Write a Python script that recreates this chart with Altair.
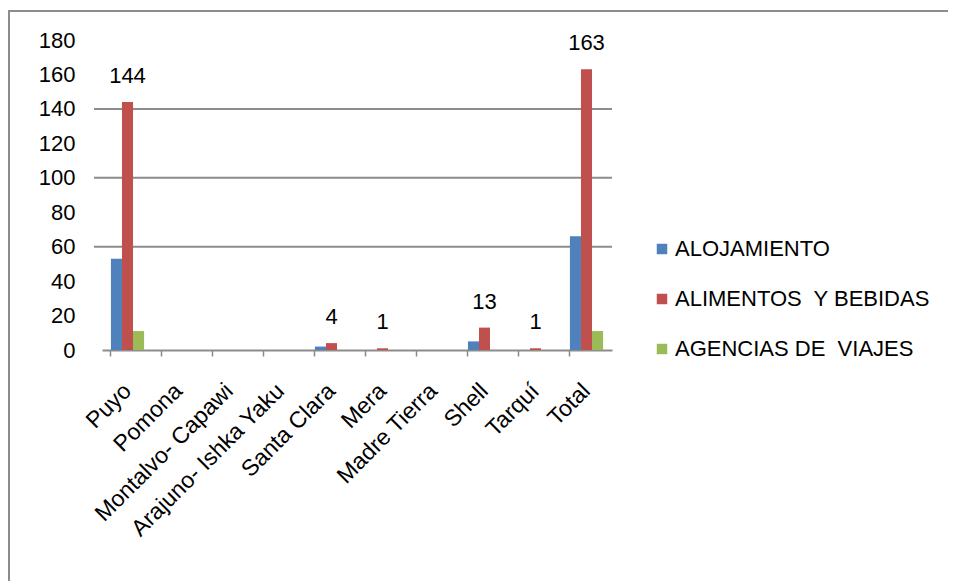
import altair as alt
import pandas as pd

categories = ["Puyo", "Pomona", "Montalvo- Capawi", "Arajuno- Ishka Yaku", "Santa Clara",
              "Mera", "Madre Tierra", "Shell", "Tarquí", "Total"]
series_names = ["ALOJAMIENTO", "ALIMENTOS\u00a0 Y BEBIDAS", "AGENCIAS DE\u00a0 VIAJES"]
alojamiento = [53, 0, 0, 0, 2, 0, 0, 5, 0, 66]
alimentos = [144, 0, 0, 0, 4, 1, 0, 13, 1, 163]
agencias = [11, 0, 0, 0, 0, 0, 0, 0, 0, 11]
colors = ["#4F81BD", "#C0504D", "#9BBB59"]
y_ticks = [0, 20, 40, 60, 80, 100, 120, 140, 160, 180]
grid_values = [60, 100, 140]

rows = []
for s, vals in zip(series_names, [alojamiento, alimentos, agencias]):
    for c, v in zip(categories, vals):
        rows.append({"cat": c, "serie": s, "valor": v})
df = pd.DataFrame(rows)
grid_df = pd.DataFrame({"g": grid_values})
frame_df = pd.DataFrame({"k": [0]})

FONT = "Liberation Sans"
YSCALE = alt.Scale(domain=[0, 180], nice=False)
Y_AXIS = alt.Axis(values=y_ticks, labelFontSize=22, labelFont=FONT,
                  labelColor="#000000", labelPadding=27, domain=False,
                  ticks=False, grid=False, labelOverlap=False)

x_enc = alt.X("cat:N", sort=categories, title=None,
              scale=alt.Scale(paddingInner=0.35, paddingOuter=0.175),
              axis=alt.Axis(labelAngle=-45, labelAlign="right", labelBaseline="middle",
                            labelFontSize=23, labelFont=FONT, labelColor="#000000",
                            labelPadding=31, bandPosition=0, ticks=True, tickSize=6,
                            tickColor="#888888", tickWidth=1.5, labelOverlap=False,
                            labelLimit=400,
                            domainColor="#8c8c8c", domainWidth=2, grid=False))

grid = alt.Chart(grid_df).mark_rule(color="#8c8c8c", strokeWidth=2).encode(
    y=alt.Y("g:Q", scale=YSCALE, axis=Y_AXIS, title=None),
    x=alt.value(-8), x2=alt.value(510),
)

bars = alt.Chart(df).mark_bar().encode(
    x=x_enc,
    y=alt.Y("valor:Q", title=None, scale=YSCALE, axis=Y_AXIS),
    xOffset=alt.XOffset("serie:N", sort=series_names),
    color=alt.Color("serie:N", sort=series_names,
                    scale=alt.Scale(domain=series_names, range=colors),
                    legend=alt.Legend(title=None, orient="none", legendX=549, legendY=198,
                                      symbolType="square", symbolSize=110, symbolStrokeWidth=0,
                                      labelFontSize=22, labelFont=FONT, labelColor="#000000",
                                      labelLimit=400, rowPadding=28, labelOffset=2)),
)

labels = alt.Chart(df).transform_filter(
    (alt.datum.serie == series_names[1]) & (alt.datum.valor > 0)
).mark_text(baseline="middle", dy=-26, fontSize=22, font=FONT, color="#000000").encode(
    x=alt.X("cat:N", sort=categories),
    y=alt.Y("valor:Q", scale=YSCALE, axis=Y_AXIS, title=None),
    text=alt.Text("valor:Q"),
)

frame_left = alt.Chart(frame_df).mark_rule(color="#8c8c8c", strokeWidth=2).encode(
    x=alt.value(-93), y=alt.value(-30), y2=alt.value(900))
frame_top = alt.Chart(frame_df).mark_rule(color="#8c8c8c", strokeWidth=2).encode(
    y=alt.value(-29), x=alt.value(-94), x2=alt.value(1200))

chart = alt.layer(frame_left, frame_top, grid, bars, labels).properties(
    width=510, height=310,
    autosize=alt.AutoSizeParams(type="none"),
    padding={"left": 94, "top": 32, "right": 336, "bottom": 231},
).configure_view(stroke=None)

chart.save("out.html", embed_options={"renderer": "svg", "actions": False})
